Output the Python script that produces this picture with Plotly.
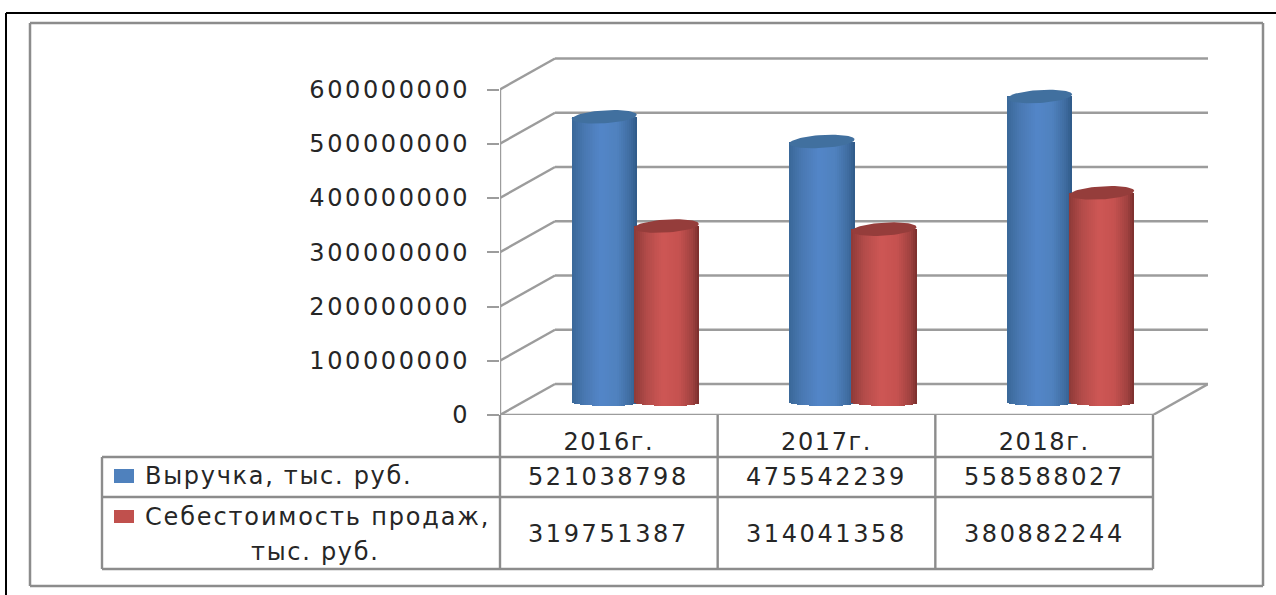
import numpy as np
import plotly.graph_objects as go

W, H = 1276, 595
categories = ["2016г.", "2017г.", "2018г."]
series_names = ["Выручка, тыс. руб.", "Себестоимость продаж,", "тыс. руб."]
revenue = [521038798, 475542239, 558588027]
cost = [319751387, 314041358, 380882244]
tick_values = [0, 100000000, 200000000, 300000000, 400000000, 500000000, 600000000]

TEXT = "#262626"
GRID = "#9c9c9c"
FRAME = "#8c8c8c"
FONT = "DejaVu Sans"
FS = 24


def spaced(text, px):
    return f'<span style="letter-spacing:{px}px">{text}</span>'


# pixel layout of the plot region
x0_px, x1_px, xr_px = 500.0, 1153.0, 1208.0
y0_px, ytop_px, ymax_px = 415.0, 89.5, 30.0
px_per_unit = (x1_px - x0_px) / 3
val_per_px = 600e6 / (y0_px - ytop_px)
depth_x = (xr_px - x1_px) / px_per_unit
depth_v = (y0_px - 384.0) * val_per_px
xlo, xhi = -0.5, 2.5 + depth_x
vmax = (y0_px - ymax_px) * val_per_px


def px(x):
    return x / W


def py(y):
    return 1 - y / H


shapes = []


def line(x0, y0, x1, y1, color=FRAME, width=2):
    shapes.append(dict(type="line", xref="paper", yref="paper", x0=px(x0), x1=px(x1),
                       y0=py(y0), y1=py(y1), line=dict(color=color, width=width), layer="below"))


def dline(x0, y0, x1, y1, color=GRID, width=2.4):
    shapes.append(dict(type="line", xref="x", yref="y", x0=x0, x1=x1, y0=y0, y1=y1,
                       line=dict(color=color, width=width), layer="below"))


# outer frames
line(6, 13, 1276, 13, "#000000", 2)
line(6, 13, 6, 595, "#000000", 2)
line(30, 23, 1263, 23, FRAME, 2.5)
line(30, 23, 30, 586, FRAME, 2.5)
line(1263, 23, 1263, 586, FRAME, 2.5)
line(30, 586, 1263, 586, FRAME, 2.5)

# 3D walls built on the value axis
for v in tick_values:
    dline(xlo, v, xlo + depth_x, v + depth_v)
    dline(xlo + depth_x, v + depth_v, xhi, v + depth_v)
dline(xlo, 0, xlo, tick_values[-1])
dline(xhi - depth_x, 0, xhi, depth_v)
dline(xlo, 0, xhi - depth_x, 0)

# data table
table_left, table_bottom, header_bottom, row_bottom = 102, 569, 457, 497
for i in range(4):
    xp = x0_px + i * px_per_unit
    line(xp, y0_px, xp, table_bottom, width=2.4)
line(table_left, header_bottom, table_left, table_bottom, width=2.4)
for yp in (header_bottom, row_bottom, table_bottom):
    line(table_left, yp, x1_px, yp, width=2.4)

# legend keys
for y0, y1, c in ((469, 483, "#4f81bd"), (510, 523, "#c0504d")):
    shapes.append(dict(type="rect", xref="paper", yref="paper", x0=px(114), x1=px(134),
                       y0=py(y1), y1=py(y0), fillcolor=c, line=dict(width=0)))

# cylinders
N = 33
half_w = 32.5 / px_per_unit
offset = 31.0 / px_per_unit
mid_x = 26.5 / px_per_unit
ell = 6.5 * val_per_px
skew = 2.0 * val_per_px
base_c = 15.5 * val_per_px
foot_c = 12.5 * val_per_px
foot_ell = 3.5 * val_per_px
foot_skew = 0.5 * val_per_px
u = np.linspace(-1, 1, N, endpoint=False) + 1.0 / N
stops = [0, 0.2, 0.45, 0.7, 0.9, 1]
style = {
    "blue": dict(grad=[(0x3a, 0x68, 0x99), (0x4a, 0x79, 0xb3), (0x53, 0x86, 0xc8), (0x50, 0x82, 0xbf), (0x3f, 0x6c, 0xa0), (0x2f, 0x5a, 0x88)],
                 cap="#41709f"),
    "red": dict(grad=[(0x8e, 0x3a, 0x38), (0xb4, 0x4c, 0x4a), (0xce, 0x57, 0x55), (0xc6, 0x52, 0x50), (0xa0, 0x42, 0x40), (0x7a, 0x2e, 0x2c)],
                cap="#953d3b"),
}


def strip_colors(grad):
    t = (u + 1) / 2
    rgb = [np.interp(t, stops, [g[k] for g in grad]) for k in range(3)]
    return [f"rgb({int(r)},{int(g)},{int(b)})" for r, g, b in zip(*rgb)]


fig = go.Figure()
caps = []
for values, sign, key in ((revenue, -1, "blue"), (cost, 1, "red")):
    xs, bases, heights, cols = [], [], [], []
    colors = strip_colors(style[key]["grad"])
    for i, v in enumerate(values):
        c = i + mid_x + sign * offset
        xs.extend(c + u * half_w)
        bottom = foot_c - foot_ell * np.sqrt(1 - u ** 2) - foot_skew * u
        top = base_c + v
        bases.extend(bottom)
        heights.extend(top - bottom)
        cols.extend(colors)
        th = np.linspace(0, 2 * np.pi, 61)
        caps.append(go.Scatter(x=c + half_w * np.cos(th),
                               y=top + ell * np.sin(th) + skew * np.cos(th),
                               mode="lines", fill="toself", line=dict(width=0),
                               fillcolor=style[key]["cap"], hoverinfo="skip", showlegend=False))
    fig.add_trace(go.Bar(x=xs, y=heights, base=bases, width=2 * half_w / N * 1.02,
                         marker=dict(color=cols, line=dict(width=0)), showlegend=False))
fig.add_traces(caps)

# table text
ann = []


def text(x, y, s, sp=2.6, anchor="center"):
    ann.append(dict(xref="paper", yref="paper", x=px(x), y=py(y), text=spaced(s, sp), showarrow=False,
                    xanchor=anchor, yanchor="middle", font=dict(family=FONT, size=FS, color=TEXT)))


for i in range(3):
    xc = x0_px + (i + 0.5) * px_per_unit
    text(xc, 477, str(revenue[i]))
    text(xc, 533.5, str(cost[i]))
text(143, 476, series_names[0], 1.7, "left")
text(143, 517, series_names[1], 1.85, "left")
text(315, 552, series_names[2], 1.7)

fig.update_layout(
    width=W, height=H, margin=dict(l=0, r=0, t=0, b=0, autoexpand=False),
    paper_bgcolor="white", plot_bgcolor="white",
    barmode="overlay", bargap=0, showlegend=False,
    shapes=shapes, annotations=ann,
    xaxis=dict(domain=[px(x0_px), px(xr_px)], range=[xlo, xhi], tickmode="array",
               tickvals=[0, 1, 2], ticktext=[spaced(c, 1.6) for c in categories],
               ticks="", ticklabelstandoff=10, showgrid=False, zeroline=False, showline=False,
               tickfont=dict(family=FONT, size=FS, color=TEXT)),
    yaxis=dict(domain=[py(y0_px), py(ymax_px)], range=[0, vmax], tickmode="array",
               tickvals=tick_values, ticktext=[spaced(v, 2.6) for v in tick_values],
               ticks="outside", ticklen=12, tickwidth=2, tickcolor=GRID, ticklabelstandoff=12,
               showgrid=False, zeroline=False, showline=False,
               tickfont=dict(family=FONT, size=FS, color=TEXT)),
)
fig.write_html("out.html", post_script="document.body.style.margin='0';",
               config={"displayModeBar": False})
